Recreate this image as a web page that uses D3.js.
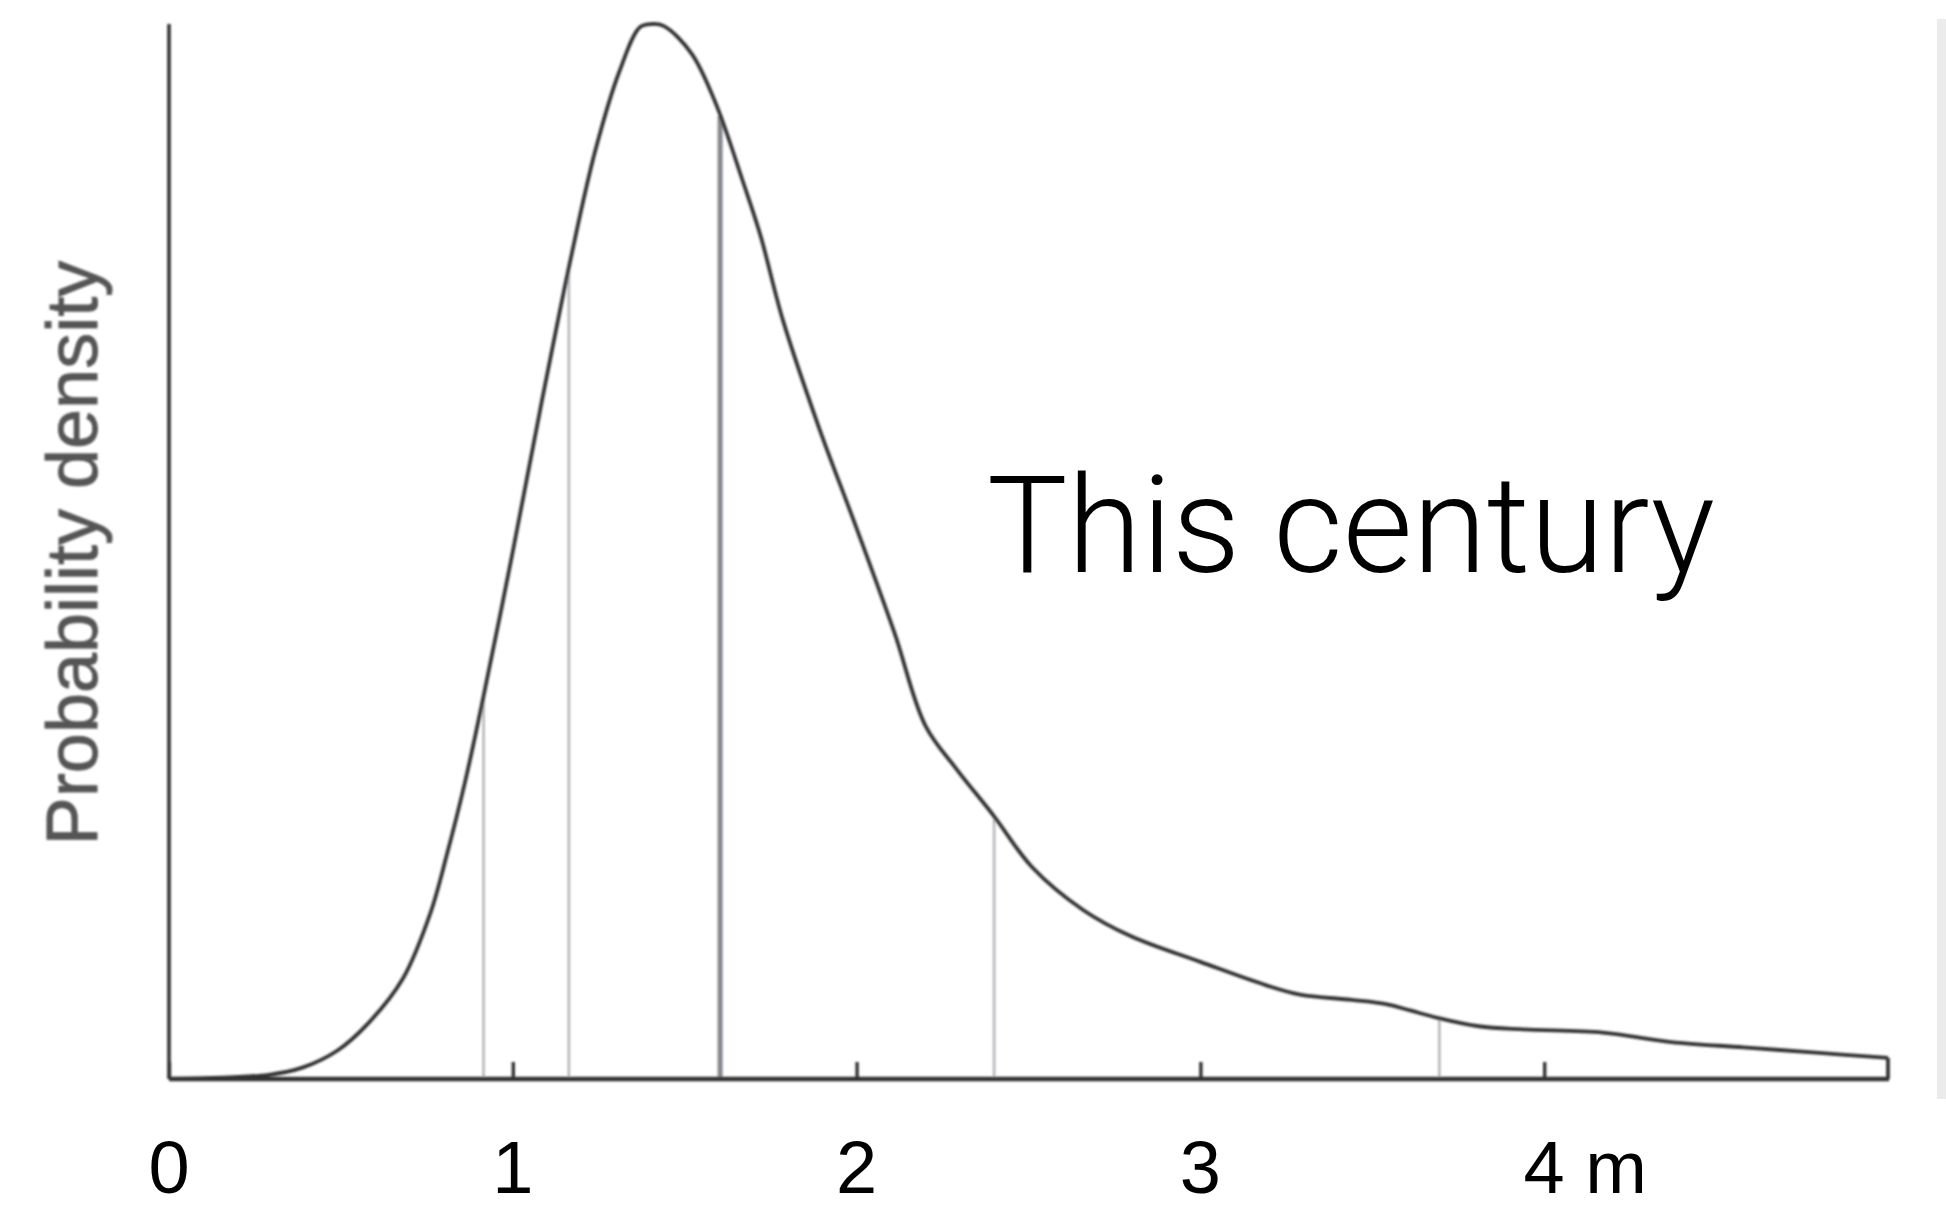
<!DOCTYPE html>
<html>
<head>
<meta charset="utf-8">
<script src="https://cdn.jsdelivr.net/npm/d3@7"></script>
<style>
  html, body { margin: 0; padding: 0; background: #ffffff; }
  svg { display: block; }
</style>
</head>
<body>
<svg id="chart" width="1946" height="1209"></svg>
<script>
// Sea-level rise this century (m) and its probability density (peak = 1)
const riseMetres = [0, 0.29, 0.39, 0.49, 0.58, 0.68, 0.76, 0.81, 0.86, 0.91, 1.0, 1.08, 1.17,
  1.24, 1.31, 1.37, 1.405, 1.44, 1.52, 1.59, 1.67, 1.72, 1.785, 1.89, 2.0, 2.11, 2.2, 2.29,
  2.4, 2.51, 2.66, 2.8, 3.0, 3.19, 3.29, 3.44, 3.54, 3.61, 3.69, 3.81, 3.94, 4.17, 4.37, 4.58, 4.79, 5.0];
const density = [0, 0.004, 0.011, 0.027, 0.053, 0.095, 0.157, 0.215, 0.28, 0.355, 0.5, 0.635, 0.78,
  0.88, 0.955, 0.997, 1.0, 0.998, 0.972, 0.925, 0.85, 0.8, 0.72, 0.618, 0.522, 0.423, 0.335, 0.294,
  0.249, 0.201, 0.160, 0.135, 0.111, 0.089, 0.080, 0.075, 0.071, 0.065, 0.058, 0.050, 0.047, 0.044, 0.035, 0.030, 0.025, 0.020];

// Percentile markers along the distribution; the median is emphasised
const percentiles = [0.915, 1.163, 1.603, 2.4, 3.695];
const medianValue = 1.603;

const xTicks = [0, 1, 2, 3, 4];
const unitLabel = "m";
const yLabel = "Probability density";
const title = "This century";

const svg = d3.select("#chart");
const W = 1946, H = 1209;

const x = d3.scaleLinear().domain([0, 5]).range([169, 1888]);
const y = d3.scaleLinear().domain([0, 1]).range([1079, 24]);

const defs = svg.append("defs");
defs.append("filter").attr("id", "soft")
  .attr("x", "-5%").attr("y", "-5%").attr("width", "110%").attr("height", "110%")
  .append("feGaussianBlur").attr("stdDeviation", 0.9);

svg.append("rect").attr("width", W).attr("height", H).attr("fill", "#ffffff");

// thin grey border strip along the right edge
svg.append("rect").attr("x", 1937).attr("y", 19).attr("width", 9).attr("height", 1080)
  .attr("fill", "#ebebeb");

const plot = svg.append("g").attr("filter", "url(#soft)");

const pts = riseMetres.map((v, i) => [v, density[i]]);
const densityAt = v => {
  const i = d3.bisector(d => d[0]).right(pts, v);
  if (i <= 0) return pts[0][1];
  if (i >= pts.length) return pts[pts.length - 1][1];
  const a = pts[i - 1], b = pts[i];
  return a[1] + (b[1] - a[1]) * (v - a[0]) / (b[0] - a[0]);
};

// percentile lines from the axis up to the curve
plot.selectAll("line.pct").data(percentiles).join("line")
  .attr("class", "pct")
  .attr("x1", d => x(d)).attr("x2", d => x(d))
  .attr("y1", y(0)).attr("y2", d => y(densityAt(d)))
  .attr("stroke", d => d === medianValue ? "#85888d" : "#b4b6ba")
  .attr("stroke-width", d => d === medianValue ? 5 : 2.6);

// density curve
const line = d3.line().x(d => x(d[0])).y(d => y(d[1])).curve(d3.curveCatmullRom.alpha(0.5));
plot.append("path").datum(pts)
  .attr("d", line)
  .attr("fill", "none")
  .attr("stroke", "#333333")
  .attr("stroke-width", 3.8)
  .attr("stroke-linejoin", "round");

// closing edge at the right end of the distribution
const last = pts[pts.length - 1];
plot.append("line")
  .attr("x1", x(last[0])).attr("x2", x(last[0]))
  .attr("y1", y(last[1])).attr("y2", y(0))
  .attr("stroke", "#333333").attr("stroke-width", 3.8);

// y axis (no ticks)
plot.append("line")
  .attr("x1", x(0)).attr("x2", x(0))
  .attr("y1", y(1)).attr("y2", y(0))
  .attr("stroke", "#333333").attr("stroke-width", 3.6);

// x axis with short upward ticks
const xAxis = d3.axisBottom(x).tickValues(xTicks).tickSizeInner(-17).tickSizeOuter(0).tickFormat("");
const axG = plot.append("g").attr("transform", `translate(0,${y(0)})`).call(xAxis);
axG.select(".domain").attr("stroke", "#333333").attr("stroke-width", 4.6)
  .attr("d", `M${x(0)},0H${x(5) + 1}`);
axG.selectAll(".tick line").attr("stroke", "#333333").attr("stroke-width", 3.4);

// tick labels (crisp text)
const lab = svg.append("g").attr("font-family", "'Liberation Sans', Arial, sans-serif")
  .attr("font-size", 74).attr("fill", "#000");
xTicks.forEach((t, i) => {
  const txt = lab.append("text").attr("y", 1193).text(String(t));
  const w = txt.node().getComputedTextLength();
  txt.attr("x", x(t) - w / 2);
  if (i === xTicks.length - 1) txt.append("tspan").text(" " + unitLabel);
});

// y axis title, grey and soft
svg.append("text")
  .attr("transform", `translate(97,553) rotate(-90)`)
  .attr("text-anchor", "middle")
  .attr("font-family", "'Liberation Sans', Arial, sans-serif")
  .attr("font-size", 72)
  .attr("fill", "#555555")
  .attr("stroke", "#555555")
  .attr("stroke-width", 0.8)
  .attr("filter", "url(#soft)")
  .text(yLabel);

// annotation
const t = svg.append("text")
  .attr("x", 987).attr("y", 572)
  .attr("font-family", "Roboto, 'Liberation Sans', sans-serif")
  .attr("font-weight", 300)
  .attr("font-size", 140)
  .attr("fill", "#000")
  .text(title);
const tw = t.node().getComputedTextLength();
t.attr("font-size", 140 * 728 / tw);
</script>
</body>
</html>
